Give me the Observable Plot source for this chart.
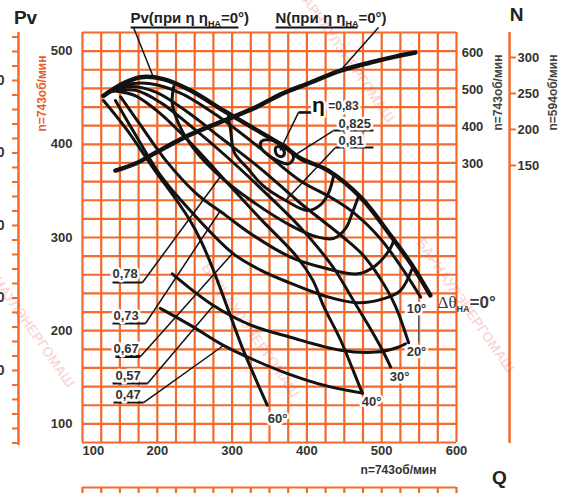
<!DOCTYPE html>
<html><head><meta charset="utf-8">
<script src="https://cdn.jsdelivr.net/npm/d3@7"></script>
<script src="https://cdn.jsdelivr.net/npm/@observablehq/plot@0.6"></script>
<style>body{margin:0;background:#fff;} svg{display:block}</style>
</head><body><div id="chart"></div>
<script>
// ---------- data (Q in m3/h scale of chart, Pv in the left-axis units) ----------
// pressure curves for guide-vane angles
const Q_0  = [128,151,178,208,244,289,325,369,391,428,472,512,539,565];
const P_0  = [452,464,472,470,458,436,419,398,385,372,343,302,272,238];
const Q_10 = [132,158,191,231,278,331,391,432,462,498,529,552];
const P_10 = [455,464,465,455,432,400,361,343,327,299,265,236];
const Q_20 = [137,164,198,238,285,338,391,449,474,498,518,536];
const P_20 = [456,462,456,436,407,374,337,300,282,256,227,187];
const Q_30 = [141,171,204,244,291,338,391,436,458,482,501,512];
const P_30 = [457,458,445,420,388,353,311,267,238,206,179,161];
const Q_40 = [146,171,204,244,291,338,387,408,422,445,461,474];
const P_40 = [457,452,433,402,361,320,279,254,227,190,159,133];
const Q_60 = [128,158,195,224,244,258,274,295,314,331,347];
const P_60 = [447,417,374,342,318,297,267,222,181,149,120];
// efficiency contours
const Q_e83  = [359,366,370,367,361,358];
const P_e83  = [397,396,391,387,388,392];
const Q_e825 = [339,349,365,378,382,375,362,349,339];
const P_e825 = [403,405,401,393,385,379,382,388,396];
const Q_e81  = [295,298,303,321,341,371,401,418,429,436];
const P_e81  = [430,415,391,374,356,340,329,335,348,367];
const Q_e78  = [222,220,231,251,282,325,378,412,436,452,461,469];
const P_e78  = [462,444,418,393,367,340,313,301,299,310,327,344];
const Q_e73  = [151,178,211,251,291,325,378,425,468,492,512,516];
const P_e73  = [451,420,383,348,324,304,279,267,261,270,289,297];
const Q_e67  = [144,171,204,244,301,338,378,425,468,505,525,541];
const P_e67  = [447,410,367,329,283,265,251,237,230,235,243,267];
const Q_e57  = [220,275,325,378,445,492,521,532];
const P_e57  = [261,227,206,193,179,177,182,186];
const Q_e47  = [204,244,289,331,374,425,474];
const P_e47  = [224,206,184,168,154,141,133];
// power curve N (n=743 rpm), right axis
const Q_N = [144,171,200,244,289,331,365,405,445,485,518,545];
const N_N = [281,300,332,378,416,451,487,519,551,573,589,600];

// tick labels
const xTicks = [100,200,300,400,500,600];
const yTicks = [100,200,300,400,500];
const n743Ticks = [300,400,500,600];
const n594Ticks = [150,200,250,300];
const leftCutTicks = [100,200,300,400,500];
const angleLabels = ["10°","20°","30°","40°","60°"];
const etaLeftLabels = ["0,78","0,73","0,67","0,57","0,47"];

// ---------- helpers: secondary axis transforms to the Pv scale ----------
const nToPv = n => 260.3 + 0.397 * n;      // N at n=743
const n2ToPv = n => 261.4 + 0.7727 * n;    // N at n=594
const leftToPv = v => 79.5 + 0.778 * v;    // cut-off left neighbour axis

const pressure = [
  {k:"0", q:Q_0, p:P_0}, {k:"10", q:Q_10, p:P_10}, {k:"20", q:Q_20, p:P_20},
  {k:"30", q:Q_30, p:P_30}, {k:"40", q:Q_40, p:P_40}, {k:"60", q:Q_60, p:P_60}
];
const effOpen = [
  {k:"0.81", q:Q_e81, p:P_e81}, {k:"0.78", q:Q_e78, p:P_e78}, {k:"0.73", q:Q_e73, p:P_e73},
  {k:"0.67", q:Q_e67, p:P_e67}, {k:"0.57", q:Q_e57, p:P_e57}, {k:"0.47", q:Q_e47, p:P_e47}
];
const effLoops = [{k:"0.83", q:Q_e83, p:P_e83}, {k:"0.825", q:Q_e825, p:P_e825}];
const rows = arr => arr.flatMap(s => s.q.map((q,i) => ({k:s.k, q, p:s.p[i]})));
const pRows = rows(pressure);
const eRows = rows(effOpen);
const lRows = rows(effLoops);
const nRows = Q_N.map((q,i) => ({q, p: nToPv(N_N[i])}));

const gridX = d3.range(100, 601, 25);
const gridY = d3.range(80, 521, 20);
const leftTickVals = d3.range(0, 561, 20);

// annotation geometry (data units)
const leaders = [
  {x1:168.2,y1:525.4,x2:194.9,y2:471.7},
  {x1:495.7,y1:525.4,x2:444.9,y2:479.2},
  {x1:388.8,y1:434.2,x2:364.1,y2:393.4},
  {x1:435.6,y1:414.8,x2:380.7,y2:386.9},
  {x1:438.2,y1:396.6,x2:371.4,y2:339.7},
  {x1:180.2,y1:251.7,x2:284.5,y2:365.5},
  {x1:184.2,y1:207.7,x2:284.5,y2:329.0},
  {x1:177.5,y1:172.3,x2:300.5,y2:282.8},
  {x1:186.9,y1:143.3,x2:275.1,y2:227.0},
  {x1:181.6,y1:122.9,x2:288.5,y2:184.1}
];
const underlines = [
  {x1:164.2,x2:308.6,y:525.4,w:2},
  {x1:358.0,x2:467.6,y:525.4,w:2},
  {x1:388.8,x2:420.9,y:434.2,w:2.6},
  {x1:435.6,x2:489.0,y:414.8,w:2},
  {x1:438.2,x2:489.0,y:396.6,w:2},
  {x1:140.1,x2:180.2,y:251.7,w:2},
  {x1:140.1,x2:184.2,y:207.7,w:2},
  {x1:144.1,x2:177.5,y:172.3,w:3},
  {x1:140.1,x2:186.9,y:143.3,w:2},
  {x1:141.4,x2:181.6,y:122.9,w:2}
];
const angleX = [546.5,546.5,523.8,486.4,360.7];
const angleY = [223.8,177.7,150.8,124.0,105.8];
const etaLX = [140.1,141.4,141.4,144.1,144.1];
const etaLY = [261.4,216.3,180.9,151.9,131.5];

const ORANGE = "#f26a2c", INK = "#121212", TXT = "#333";
const halo = {stroke:"white", strokeWidth:5};

const chart = Plot.plot({
  width: 574, height: 493,
  marginLeft: 82, marginRight: 118, marginTop: 32, marginBottom: 51,
  x: {domain:[100,600], axis:null},
  y: {domain:[80,520], axis:null},
  style: {fontFamily:"'Liberation Sans', Arial, sans-serif", background:"white", overflow:"visible"},
  marks: [
    // grid
    Plot.ruleX(gridX, {y1:80, y2:520, stroke:ORANGE, strokeWidth:2.2}),
    Plot.ruleY(gridY, {x1:100, x2:600, stroke:ORANGE, strokeWidth:2.2}),
    // top of the next chart below
    Plot.ruleY([31.7], {x1:100, x2:600, stroke:ORANGE, strokeWidth:2.2}),
    Plot.ruleX(gridX, {y1:31.7, y2:20, stroke:ORANGE, strokeWidth:2.2}),
    // left cut-off axis
    Plot.ruleX([14.4], {y1:76.8, y2:520, stroke:ORANGE, strokeWidth:2.5}),
    Plot.ruleY(leftTickVals.map(leftToPv), {x1:6.4, x2:14.4, stroke:ORANGE, strokeWidth:2}),
    Plot.text(leftCutTicks, {x:-4.3, y:d=>leftToPv(d), text:d=>String(d), textAnchor:"end", fontSize:14, fontWeight:"bold", fill:TXT}),
    Plot.text(["n=743об/мин"], {x:46.5, y:454.5, rotate:-90, fontSize:12, fontWeight:"bold", fill:"#e8602c"}),
    // right axes
    Plot.ruleX([670.9], {y1:79, y2:520, stroke:ORANGE, strokeWidth:2.5}),
    Plot.ruleY(n594Ticks.map(n2ToPv), {x1:670.9, x2:680, stroke:ORANGE, strokeWidth:2}),
    Plot.text(n594Ticks, {x:681.5, y:d=>n2ToPv(d), text:d=>String(d), textAnchor:"start", fontSize:13, fontWeight:"bold", fill:TXT}),
    Plot.text(n743Ticks, {x:621.4, y:d=>nToPv(d), text:d=>String(d), fontSize:13, fontWeight:"bold", fill:TXT}),
    Plot.text(["n=743об/мин"], {x:655.5, y:455.6, rotate:-90, fontSize:12, fontWeight:"bold", fill:"#444"}),
    Plot.text(["n=594об/мин"], {x:729.7, y:455.6, rotate:-90, fontSize:12, fontWeight:"bold", fill:"#444"}),
    // watermarks
    Plot.text(["БАРНАУЛЭНЕРГОМАШ"], {x:451.6, y:495.3, rotate:55, fontSize:14, fontWeight:"bold", fill:"#e84a4a", fillOpacity:0.22}),
    Plot.text(["БАРНАУЛЭНЕРГОМАШ"], {x:612, y:227, rotate:55, fontSize:14, fontWeight:"bold", fill:"#e84a4a", fillOpacity:0.22}),
    Plot.text(["БАРНАУЛЭНЕРГОМАШ"], {x:324.6, y:200.2, rotate:55, fontSize:14, fontWeight:"bold", fill:"#e84a4a", fillOpacity:0.22}),
    Plot.text(["БАРНАУЛЭНЕРГОМАШ"], {x:23.8, y:211, rotate:55, fontSize:14, fontWeight:"bold", fill:"#e84a4a", fillOpacity:0.22}),
    // curves
    Plot.line(pRows.filter(d=>d.k!=="0"), {x:"q", y:"p", z:"k", curve:"catmull-rom", stroke:INK, strokeWidth:3}),
    Plot.line(pRows.filter(d=>d.k==="0"), {x:"q", y:"p", curve:"catmull-rom", stroke:INK, strokeWidth:4.5}),
    Plot.line(eRows, {x:"q", y:"p", z:"k", curve:"catmull-rom", stroke:INK, strokeWidth:3}),
    Plot.line(lRows, {x:"q", y:"p", z:"k", curve:"catmull-rom-closed", stroke:INK, strokeWidth:3}),
    Plot.line(nRows, {x:"q", y:"p", curve:"catmull-rom", stroke:INK, strokeWidth:4.5}),
    // leaders & underlines
    Plot.link(leaders, {x1:"x1", y1:"y1", x2:"x2", y2:"y2", stroke:INK, strokeWidth:1.5}),
    Plot.link(underlines, {x1:"x1", x2:"x2", y1:"y", y2:"y", stroke:INK, strokeWidth:d=>d.w}),
    Plot.ruleX([549.2], {y1:216, y2:188, stroke:"#555", strokeWidth:1}),
    // axis tick labels
    Plot.text(xTicks.slice(0,1), {x:d=>d, y:71.4, text:d=>String(d), textAnchor:"start", fontSize:13, fontWeight:"bold", fill:TXT}),
    Plot.text(xTicks.slice(1), {x:d=>d, y:71.4, text:d=>String(d), fontSize:13, fontWeight:"bold", fill:TXT}),
    Plot.text(yTicks, {x:86.6, y:d=>d, text:d=>String(d), textAnchor:"end", fontSize:13, fontWeight:"bold", fill:TXT}),
    // titles
    Plot.text(["Pv"], {x:23.8, y:536.1, fontSize:19, fontWeight:"bold", fill:"#222"}),
    Plot.text(["N"], {x:680.2, y:538.8, fontSize:19, fontWeight:"bold", fill:"#222"}),
    Plot.text(["Q"], {x:657.5, y:42.4, fontSize:19, fontWeight:"bold", fill:"#222"}),
    Plot.text(["n=743об/мин"], {x:522.5, y:50, fontSize:12, fontWeight:"bold", fill:TXT}),
    Plot.text(["Pv(при η η_НА=0°)"], {x:164.2, y:535.6, textAnchor:"start", fontSize:15, fontWeight:"bold", fill:"#222"}),
    Plot.text(["N(при η η_НА=0°)"], {x:358, y:535.6, textAnchor:"start", fontSize:15, fontWeight:"bold", fill:"#222"}),
    // curve labels
    Plot.text(angleLabels, {x:(d,i)=>angleX[i], y:(d,i)=>angleY[i], text:d=>d, fontSize:13, fontWeight:"bold", fill:TXT, ...halo}),
    Plot.text(["Δθ_НА=0°"], {x:574.6, y:230.2, textAnchor:"start", fontSize:17, fontWeight:"bold", fill:"#3a3a3a"}),
    Plot.text(etaLeftLabels, {x:(d,i)=>etaLX[i], y:(d,i)=>etaLY[i], text:d=>d, textAnchor:"start", fontSize:13, fontWeight:"bold", fill:TXT, ...halo}),
    Plot.text(["0,825"], {x:442.2, y:422.4, textAnchor:"start", fontSize:13, fontWeight:"bold", fill:TXT, ...halo}),
    Plot.text(["0,81"], {x:442.2, y:404.1, textAnchor:"start", fontSize:13, fontWeight:"bold", fill:TXT, ...halo}),
    Plot.text(["η"], {x:415.5, y:441.5, fontSize:21, fontWeight:"bold", fill:"#111", ...halo}),
    Plot.text(["=0,83"], {x:428.5, y:440.6, textAnchor:"start", fontSize:12, fontWeight:"bold", fill:TXT, ...halo})
  ]
});

// subscripts "НА"
(function(svg){
  const ns = "http://www.w3.org/2000/svg";
  svg.querySelectorAll("text").forEach(t => {
    const s = t.textContent;
    if (!s.includes("_НА")) return;
    const [a,b] = s.split("_НА");
    while (t.firstChild) t.removeChild(t.firstChild);
    const mk = (str, attrs) => { const e = document.createElementNS(ns,"tspan"); e.textContent = str; for (const k in attrs) e.setAttribute(k, attrs[k]); t.appendChild(e); };
    if (a === "Δθ") mk(a, {"font-family":"'Liberation Serif', 'DejaVu Serif', serif", "font-weight":"normal"});
    else mk(a, {});
    mk("НА", {"font-size":"9", "dy":"4"});
    mk(b, {"dy":"-4"});
  });
})(chart);

document.getElementById("chart").appendChild(chart);
</script></body></html>
